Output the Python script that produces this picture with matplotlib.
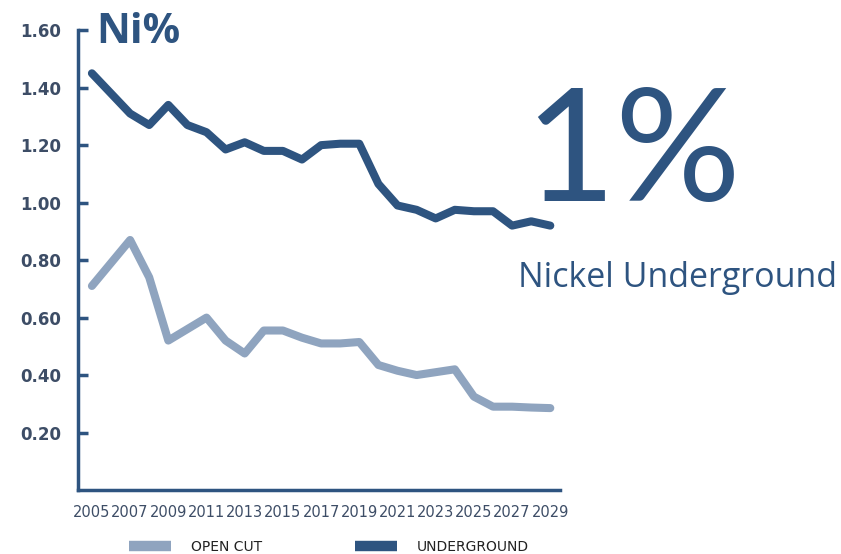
import matplotlib.pyplot as plt
from matplotlib.lines import Line2D

years = list(range(2005, 2030))
underground = [1.45, 1.38, 1.31, 1.27, 1.34, 1.27, 1.245, 1.185, 1.21, 1.18,
               1.18, 1.15, 1.20, 1.205, 1.205, 1.065, 0.99, 0.975, 0.945, 0.975,
               0.97, 0.97, 0.92, 0.935, 0.92]
open_cut = [0.71, 0.79, 0.87, 0.74, 0.52, 0.56, 0.60, 0.52, 0.475, 0.555,
            0.555, 0.53, 0.51, 0.51, 0.515, 0.435, 0.415, 0.40, 0.41, 0.42,
            0.325, 0.29, 0.29, 0.287, 0.285]
y_ticks = [0.20, 0.40, 0.60, 0.80, 1.00, 1.20, 1.40, 1.60]
x_ticks = list(range(2005, 2030, 2))

dark = '#2e5480'
light = '#8fa4bf'
label_col = '#3d4d66'

fig = plt.figure(figsize=(8.41, 5.54), dpi=100)
ax = fig.add_axes([0.0927, 0.1155, 0.573, 0.83])

ax.plot(years, open_cut, color=light, lw=5.8, solid_joinstyle='round', solid_capstyle='round')
ax.plot(years, underground, color=dark, lw=5.8, solid_joinstyle='round', solid_capstyle='round')

ax.set_xlim(2004.27, 2029.5)
ax.set_ylim(0, 1.6)
ax.set_yticks(y_ticks)
ax.set_yticklabels([f'{v:.2f}' for v in y_ticks], fontweight='bold', fontsize=12, color=label_col)
ax.set_xticks(x_ticks)
ax.set_xticklabels([str(y) for y in x_ticks], fontsize=10.5, color=label_col)
ax.tick_params(axis='y', direction='in', length=7, width=2.5, color=dark, pad=12)
ax.tick_params(axis='x', length=0, pad=11)
for s in ['top', 'right']:
    ax.spines[s].set_visible(False)
ax.spines['left'].set_color(dark)
ax.spines['left'].set_linewidth(2.5)
ax.spines['bottom'].set_color(dark)
ax.spines['bottom'].set_linewidth(2.5)

fig.text(0.114, 0.942, 'Ni%', fontsize=30, fontweight='bold', color=dark, family='Open Sans', va='center')
fig.text(0.752, 0.718, '1%', fontsize=113, color=dark, family='Lato', ha='center', va='center')
fig.text(0.806, 0.498, 'Nickel Underground', fontsize=24.5, color=dark, family='Open Sans', ha='center', va='center')

handles = [Line2D([], [], color=light, lw=7.5, solid_capstyle='butt'),
           Line2D([], [], color=dark, lw=7.5, solid_capstyle='butt')]
fig.legend(handles, ['OPEN CUT', 'UNDERGROUND'], loc='center', bbox_to_anchor=(0.391, 0.013),
           ncol=2, frameon=False, fontsize=10, handlelength=3, handletextpad=1.45,
           columnspacing=6.7, labelcolor='#222222')

fig.savefig('out.png', dpi=100)
